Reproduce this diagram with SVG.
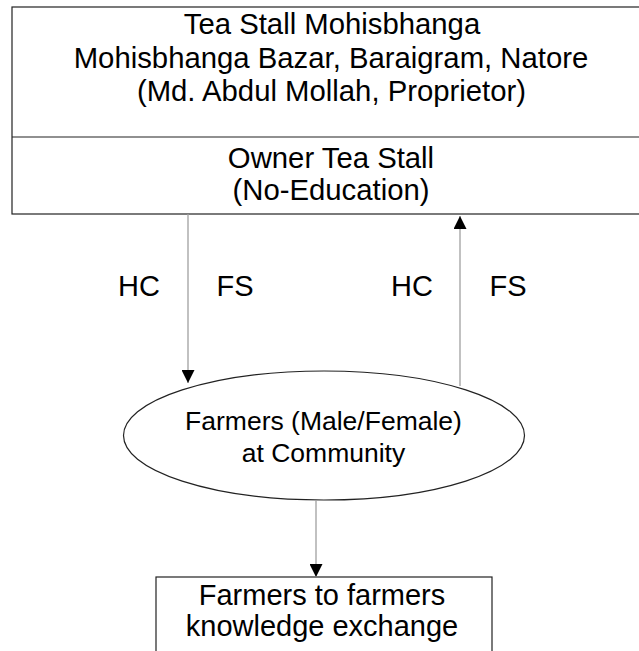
<svg xmlns="http://www.w3.org/2000/svg" width="639" height="651" viewBox="0 0 639 651">
<defs>
<style>
.box{fill:#fff;stroke:#222;stroke-width:1.2}
.t{font-family:"Liberation Sans",Arial,sans-serif;fill:#000;text-anchor:middle}
.conn{stroke:#a0a0a0;stroke-width:1.3;fill:none}
</style>
<marker id="ah" viewBox="0 0 10 10" refX="10" refY="5" markerWidth="15" markerHeight="13" markerUnits="userSpaceOnUse" orient="auto">
<path d="M0,0 L10,5 L0,10 Z" fill="#000"/>
</marker>
</defs>
<rect width="639" height="651" fill="#fff"/>
<g id="top-box">
<rect class="box" x="12" y="7" width="640" height="207"/>
<line x1="12" y1="137" x2="652" y2="137" stroke="#222" stroke-width="1.2"/>
<text class="t" x="332" y="34" font-size="29.3">Tea Stall Mohisbhanga</text>
<text class="t" x="331" y="68" font-size="29.3">Mohisbhanga Bazar, Baraigram, Natore</text>
<text class="t" x="331.5" y="101" font-size="29.3">(Md. Abdul Mollah, Proprietor)</text>
<text class="t" x="331" y="168" font-size="29.3">Owner Tea Stall</text>
<text class="t" x="331" y="200" font-size="29.3">(No-Education)</text>
</g>
<g id="farmers">
<ellipse class="box" cx="324" cy="435.5" rx="200.5" ry="64.5"/>
<text class="t" x="323.5" y="430" font-size="26.5">Farmers (Male/Female)</text>
<text class="t" x="323.5" y="462" font-size="26.5">at Community</text>
</g>
<g id="exchange">
<rect class="box" x="156" y="577" width="336" height="90"/>
<text class="t" x="322" y="605" font-size="29">Farmers to farmers</text>
<text class="t" x="322" y="636" font-size="29">knowledge exchange</text>
</g>
<g id="connectors">
<line class="conn" x1="188" y1="214" x2="188" y2="383" marker-end="url(#ah)"/>
<line class="conn" x1="460" y1="386" x2="460" y2="216" marker-end="url(#ah)"/>
<line class="conn" x1="316" y1="500" x2="316" y2="577" marker-end="url(#ah)"/>
<text class="t" x="139" y="296" font-size="29">HC</text>
<text class="t" x="235" y="296" font-size="29">FS</text>
<text class="t" x="412" y="296" font-size="29">HC</text>
<text class="t" x="508" y="296" font-size="29">FS</text>
</g>
</svg>
